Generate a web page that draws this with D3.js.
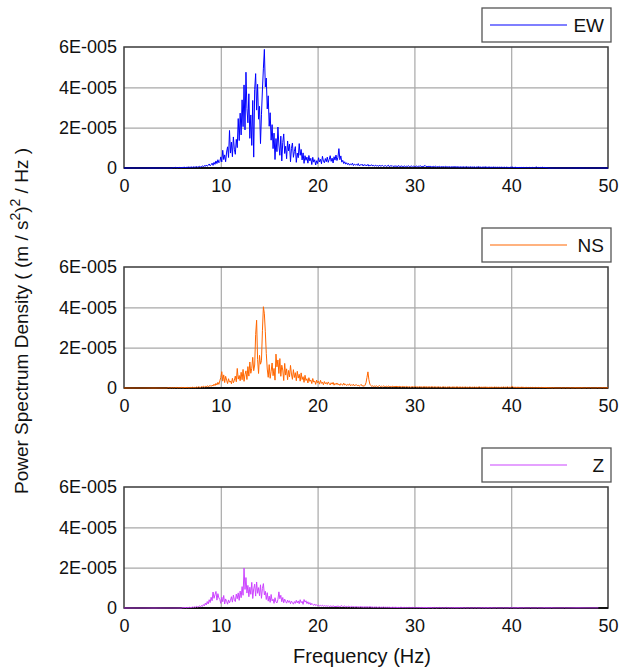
<!DOCTYPE html>
<html>
<head>
<meta charset="utf-8">
<script src="https://cdn.jsdelivr.net/npm/d3@7"></script>
<style>
  html, body { margin: 0; padding: 0; background: #fff; }
  svg { display: block; font-family: "Liberation Sans", Arial, sans-serif; }
</style>
</head>
<body>
<svg id="chart" width="634" height="671"></svg>
<script>
// Frequency grid of the spectra (Hz); sample i sits at i * freqStep
const freqStep = 0.1;
const freqDomain = [0, 50];
const freqTicks = [0, 10, 20, 30, 40, 50];
const psdDomain = [0, 6e-5];
const psdTicks = [0, 2e-5, 4e-5, 6e-5];
const psdTickLabels = ["0", "2E-005", "4E-005", "6E-005"];
// spectra below are listed in units of 1E-006 (m/s^2)^2/Hz
const psdUnit = 1e-6;

const components = ["EW", "NS", "Z"];
const componentColors = ["#0000ff", "#ff6600", "#cc44ff"];

const ewPsd = [
  0,0,0,0,0,0,0,0,0,0,
  0,0,0,0,0,0,0,0,0,0,
  0,0,0,0,0,0,0,0,0,0,
  0,0,0,0,0,0,0,0,0,0,
  0,0,0,0,0,0,0,0,0,0,
  0.1,0.2,0.1,0.3,0.2,0.1,0.2,0.3,0.2,0.1,
  0.3,0.2,0.4,0.3,0.2,0.4,0.3,0.5,0.3,0.4,
  0.5,0.3,0.6,0.4,0.5,0.7,0.4,0.6,0.8,0.5,
  0.7,1.0,0.6,1.2,0.8,1.5,0.9,1.3,2.0,1.1,
  1.6,2.4,1.3,2.8,1.8,3.5,2.2,4.1,2.6,3.2,
  5.5,3.0,8.8,4.2,6.5,3.1,7.9,10.5,5.2,18.6,
  7.4,12.8,5.6,15.4,9.3,6.8,14.2,10.1,24.5,13.6,
  27.2,16.4,33.8,20.5,41.2,18.9,47.5,29.6,22.4,36.8,
  14.7,26.3,11.2,33.5,5.4,38.9,46.8,28.7,41.5,24.2,
  30.6,12.1,26.4,38.7,49.5,58.8,40.2,44.6,29.3,35.8,
  20.7,27.4,13.8,21.5,9.6,17.3,4.2,14.6,8.1,20.3,
  11.4,6.3,15.8,3.5,12.7,16.9,7.2,10.8,4.6,13.4,
  8.5,11.9,3.1,9.7,12.4,5.3,8.2,10.6,2.8,7.4,
  5.1,12.1,6.3,9.2,4.0,7.5,2.3,6.1,3.8,5.4,
  2.4,6.2,3.5,4.8,1.7,5.3,2.9,4.1,1.5,3.6,
  2.2,5.1,3.0,4.3,2.1,5.8,3.4,2.6,4.7,3.1,
  5.4,2.8,4.2,6.1,3.3,4.9,2.5,5.6,3.9,6.4,
  3.7,5.2,9.6,4.1,6.0,2.9,3.8,2.2,3.1,1.9,
  2.6,1.7,2.3,1.4,2.0,1.6,2.4,1.2,1.9,1.5,
  1.8,1.3,2.2,1.1,1.6,1.4,1.9,1.0,1.7,1.3,
  1.5,1.1,1.8,0.9,1.4,1.2,1.6,1.0,1.3,0.9,
  1.4,1.0,1.2,0.8,1.5,0.9,1.1,1.3,0.8,1.0,
  1.2,0.8,1.0,1.4,0.7,1.1,0.9,1.2,0.7,1.0,
  0.8,1.1,0.7,0.9,1.2,0.6,0.9,1.0,0.7,0.8,
  1.0,0.6,0.9,0.8,1.1,0.7,0.8,1.0,0.6,0.9,
  0.8,0.7,1.0,0.6,0.9,0.7,1.2,0.6,0.8,0.7,
  0.9,1.3,0.7,0.8,0.6,0.9,0.7,0.8,0.5,0.7,
  0.8,0.6,0.9,0.5,0.7,0.6,0.8,0.5,0.7,0.6,
  0.7,0.5,0.8,0.6,0.6,0.5,0.7,0.4,0.6,0.5,
  0.6,0.5,0.7,0.4,0.6,0.5,0.5,0.4,0.6,0.4,
  0.5,0.6,0.4,0.5,0.7,0.4,0.5,0.4,0.6,0.4,
  0.5,0.4,0.6,0.3,0.5,0.4,0.7,0.4,0.5,0.3,
  0.4,0.5,0.3,0.6,0.4,0.4,0.3,0.5,0.4,0.3,
  0.4,0.3,0.5,0.3,0.4,0.3,0.4,0.3,0.4,0.3,
  0.4,0.3,0.3,0.4,0.2,0.4,0.3,0.3,0.2,0.4,
  0.3,0.5,0.3,0.2,0.4,0.3,0.2,0.3,0.2,0.3,
  0.2,0.3,0.2,0.3,0.2,0.2,0.3,0.2,0.2,0.3,
  0.2,0.2,0.3,0.2,0.2,0.3,0.5,0.2,0.3,0.2,
  0.3,0.2,0.4,0.2,0.3,0.2,0.2,0.1,0.1,0,
  0,0,0,0,0,0,0,0,0,0,
  0,0,0,0,0,0,0,0,0,0,
  0,0,0,0,0,0,0,0,0,0,
  0,0,0,0,0,0,0,0,0,0,
  0,0,0,0,0,0,0,0,0,0,
  0,0,0,0,0,0,0,0,0,0,
  0
];

const nsPsd = [
  0,0,0,0,0,0,0,0,0,0,
  0,0,0,0,0,0,0,0,0,0,
  0,0,0,0,0,0,0,0,0,0,
  0,0,0,0,0,0,0,0,0,0,
  0,0,0,0,0,0.1,0.2,0.1,0.1,0.2,
  0.1,0.2,0.1,0.2,0.3,0.1,0.2,0.2,0.1,0.3,
  0.2,0.1,0.2,0.3,0.2,0.2,0.3,0.1,0.2,0.3,
  0.2,0.4,0.2,0.3,0.2,0.5,0.3,0.6,0.4,0.3,
  0.7,0.5,0.9,0.4,0.8,0.6,1.1,0.7,0.9,1.3,
  0.8,1.4,1.0,1.9,1.2,2.3,1.5,2.8,1.8,3.6,
  5.2,8.1,3.4,6.5,2.7,5.8,3.9,2.2,4.6,2.9,
  3.5,2.1,4.8,2.6,3.8,5.9,3.1,9.7,4.4,6.2,
  3.6,7.8,4.1,9.2,3.3,6.7,8.5,4.2,10.6,5.9,
  12.9,7.3,9.8,15.2,8.6,11.4,26.5,33.6,14.1,7.2,
  16.2,11.8,13.5,28.4,40.3,36.8,27.9,17.1,9.4,5.3,
  11.6,4.8,8.3,12.4,6.1,9.7,3.9,16.8,10.5,13.9,
  7.2,14.6,5.8,11.3,8.9,3.7,12.2,6.4,9.5,4.1,
  8.7,5.5,11.2,6.9,4.3,9.1,5.2,7.6,3.6,8.3,
  4.9,6.8,3.4,7.5,4.2,5.6,2.8,6.3,3.7,4.6,
  2.5,5.1,3.3,4.0,2.2,4.7,2.9,3.5,1.8,3.9,
  2.6,3.4,1.9,3.8,2.3,2.9,1.6,3.2,2.1,2.7,
  1.8,3.0,2.2,1.5,2.6,1.9,2.8,1.4,2.3,1.7,
  2.5,1.6,2.0,1.3,2.2,1.7,1.4,2.4,1.5,1.9,
  1.2,1.8,1.4,2.1,1.1,1.6,1.3,1.9,1.0,1.5,
  1.7,1.1,1.4,0.9,1.3,1.8,1.0,1.2,0.8,1.4,
  2.6,5.2,8.0,4.1,1.9,1.2,0.8,1.1,0.7,1.0,
  0.8,1.1,0.6,0.9,1.2,0.7,0.9,0.6,1.0,0.8,
  0.7,0.9,0.6,1.0,0.7,0.8,0.5,0.9,0.7,0.6,
  0.8,0.6,0.9,0.5,0.7,0.8,0.6,0.5,0.8,0.6,
  0.7,0.5,0.8,0.6,0.5,0.7,0.4,0.6,0.7,0.5,
  0.6,0.8,0.5,0.6,0.4,0.7,0.5,0.6,0.4,0.5,
  0.7,0.4,0.6,0.5,0.4,0.6,0.5,0.4,0.7,0.5,
  0.4,0.6,0.5,0.4,0.5,0.6,0.4,0.5,0.3,0.5,
  0.6,0.4,0.5,0.3,0.5,0.4,0.6,0.4,0.3,0.5,
  0.4,0.5,0.3,0.4,0.6,0.4,0.3,0.5,0.4,0.3,
  0.5,0.3,0.4,0.5,0.3,0.4,0.3,0.5,0.4,0.3,
  0.4,0.3,0.5,0.3,0.4,0.3,0.4,0.6,0.3,0.4,
  0.3,0.4,0.3,0.5,0.3,0.4,0.3,0.3,0.4,0.3,
  0.4,0.3,0.3,0.5,0.3,0.4,0.3,0.4,0.3,0.3,
  0.4,0.3,0.5,0.3,0.4,0.3,0.6,0.3,0.4,0.3,
  0.5,0.8,0.4,0.3,0.4,0.3,0.3,0.4,0.3,0.3,
  0.3,0.4,0.3,0.3,0.2,0.3,0.3,0.2,0.3,0.2,
  0.3,0.2,0.3,0.2,0.2,0.3,0.2,0.2,0.3,0.2,
  0.2,0.3,0.2,0.2,0.2,0.3,0.2,0.2,0.1,0.2,
  0.1,0.2,0.1,0.1,0.2,0.1,0.1,0.1,0.1,0.1,
  0.1,0.1,0.2,0.1,0.1,0.1,0.2,0.1,0.1,0.1,
  0.1,0.2,0.1,0.1,0.1,0.1,0.2,0.1,0.1,0.1,
  0.1,0.1,0.1,0.2,0.1,0.1,0.1,0.1,0.2,0.1,
  0.1,0.1,0.2,0.1,0.1,0.1,0.1,0.1,0.1,0.2,
  0.1,0.1,0.1,0.1,0.2,0.1,0.1,0.1,0.1,0.1,
  0.1
];

const zPsd = [
  0,0,0,0,0,0,0,0,0,0,
  0,0,0,0,0,0,0,0,0,0,
  0,0,0,0,0,0,0,0,0,0,
  0,0,0,0,0,0,0,0,0,0,
  0,0,0,0,0,0,0,0,0,0,
  0,0,0,0,0,0,0,0,0,0,
  0.1,0.2,0.1,0.3,0.2,0.1,0.3,0.2,0.4,0.2,
  0.3,0.5,0.3,0.6,0.4,0.8,0.5,0.7,1.0,0.6,
  1.2,0.8,1.7,1.1,2.4,1.5,3.2,2.0,4.1,2.7,
  5.3,3.6,7.9,4.8,6.6,8.2,3.9,7.1,5.0,4.2,
  2.3,5.4,3.1,6.2,2.0,4.5,3.3,1.9,4.0,2.6,
  3.8,5.6,2.9,6.4,4.1,3.2,6.9,4.6,7.5,3.8,
  8.4,5.1,10.6,6.3,19.8,9.2,15.1,7.4,11.2,5.6,
  10.3,6.8,12.7,4.7,9.5,11.8,5.9,12.9,7.3,10.1,
  6.1,11.5,4.8,9.7,12.1,6.5,8.3,4.2,7.6,3.4,
  5.9,2.8,6.7,3.5,4.4,2.3,5.1,3.0,2.5,4.2,
  8.0,4.6,6.3,3.1,5.2,2.6,4.4,3.3,2.4,3.9,
  2.8,3.6,2.1,3.4,2.7,1.9,3.2,2.3,3.8,2.5,
  3.5,2.1,4.1,2.6,3.3,1.8,4.2,2.9,3.6,2.2,
  3.1,1.9,2.7,1.5,2.3,1.7,1.3,2.0,1.2,1.6,
  1.1,1.5,0.9,1.3,1.0,1.4,0.8,1.2,0.9,1.1,
  0.8,1.2,0.7,1.0,0.9,0.7,1.1,0.8,0.6,0.9,
  0.7,1.0,0.8,0.6,0.9,1.2,0.7,0.8,1.0,0.6,
  0.8,0.6,0.9,0.7,0.5,0.8,0.6,0.7,0.5,0.6,
  0.7,0.5,0.6,0.4,0.7,0.5,0.6,0.4,0.5,0.6,
  0.4,0.6,0.5,0.4,0.7,0.5,0.4,0.5,0.3,0.5,
  0.4,0.5,0.3,0.4,0.5,0.3,0.4,0.3,0.5,0.3,
  0.4,0.3,0.4,0.3,0.4,0.3,0.2,0.4,0.3,0.3,
  0.3,0.4,0.2,0.3,0.3,0.2,0.4,0.3,0.2,0.3,
  0.3,0.2,0.3,0.2,0.3,0.3,0.2,0.2,0.3,0.2,
  0.2,0.3,0.2,0.2,0.3,0.2,0.2,0.3,0.2,0.2,
  0.3,0.2,0.2,0.3,0.1,0.2,0.2,0.3,0.2,0.1,
  0.2,0.3,0.2,0.1,0.2,0.2,0.3,0.2,0.2,0.1,
  0.2,0.2,0.1,0.3,0.2,0.1,0.2,0.2,0.1,0.2,
  0.1,0.2,0.2,0.1,0.2,0.1,0.2,0.2,0.1,0.2,
  0.2,0.1,0.1,0.2,0.1,0.1,0.1,0.2,0.1,0.1,
  0.1,0.2,0.1,0.1,0.2,0.1,0.1,0.1,0.1,0.2,
  0.1,0.1,0.2,0.1,0.1,0.1,0.2,0.1,0.1,0.1,
  0.2,0.1,0.1,0.1,0.1,0.2,0.1,0.1,0.1,0.1,
  0.1,0.1,0.2,0.1,0.1,0.1,0.1,0.1,0.2,0.1,
  0.1,0.2,0.1,0.1,0.1,0.1,0.1,0.2,0.1,0.1,
  0.1,0.1,0.1,0.2,0.1,0.1,0.1,0.1,0.1,0.1,
  0.2,0.1,0.1,0.1,0.1,0.1,0.1,0.2,0.1,0.1,
  0.1,0.1,0.1,0.1,0.2,0.1,0.1,0.1,0.1,0.1,
  0.1,0.1,0.2,0.1,0.1,0.1,0.1,0.1,0.1,0.1,
  0.1,0.1,0.1,0.1,0.1,0.2,0.1,0.1,0.1,0.1,
  0.1,0.1,0.1,0.1,0.1,0.1,0.1,0.1,0.1,0.1,
  0.1,0.1,0.1,0.1,0.1,0.1,0.1,0.1,0.1,0.1,
  0.1,0.1,0.1,0.1,0.1,0.1,0.1,0.1,0.1,0.1,
  0.1
];

const series = [ewPsd, nsPsd, zPsd];

// ---- layout ----
const svg = d3.select("#chart");
const plotLeft = 124, plotRight = 608;
const panelTops = [47, 267, 487];
const panelHeight = 121;
const fontStack = '"Liberation Sans", Arial, sans-serif';

const x = d3.scaleLinear().domain(freqDomain).range([plotLeft, plotRight]);

components.forEach((name, k) => {
  const top = panelTops[k];
  const bottom = top + panelHeight;
  const y = d3.scaleLinear().domain(psdDomain).range([bottom, top]);
  const g = svg.append("g").attr("class", "panel-" + name);

  // vertical grid
  g.append("g")
    .attr("transform", `translate(0,${bottom})`)
    .call(d3.axisBottom(x).tickValues(freqTicks.slice(1, -1)).tickSize(-panelHeight).tickFormat(""))
    .call(a => a.select(".domain").remove())
    .call(a => a.selectAll("line").attr("stroke", "#a8a8a8").attr("stroke-width", 1.2));

  // horizontal grid
  g.append("g")
    .attr("transform", `translate(${plotLeft},0)`)
    .call(d3.axisLeft(y).tickValues(psdTicks.slice(1, -1)).tickSize(-(plotRight - plotLeft)).tickFormat(""))
    .call(a => a.select(".domain").remove())
    .call(a => a.selectAll("line").attr("stroke", "#a8a8a8").attr("stroke-width", 1.2));

  // plot frame
  g.append("rect")
    .attr("x", plotLeft).attr("y", top)
    .attr("width", plotRight - plotLeft).attr("height", panelHeight)
    .attr("fill", "none").attr("stroke", "#3a3a3a").attr("stroke-width", 1.5);
  g.append("line")
    .attr("x1", plotLeft).attr("x2", plotRight).attr("y1", bottom).attr("y2", bottom)
    .attr("stroke", "#111").attr("stroke-width", 1.8);

  // y tick labels
  g.append("g")
    .attr("transform", `translate(${plotLeft},0)`)
    .call(d3.axisLeft(y).tickValues(psdTicks).tickSize(0).tickPadding(7)
      .tickFormat((d, i) => psdTickLabels[i]))
    .call(a => a.select(".domain").remove())
    .call(a => a.selectAll("text").attr("font-size", 18).attr("font-family", fontStack).attr("fill", "#111"));

  // x tick labels
  g.append("g")
    .attr("transform", `translate(0,${bottom})`)
    .call(d3.axisBottom(x).tickValues(freqTicks).tickSize(0).tickPadding(11).tickFormat(d3.format("d")))
    .call(a => a.select(".domain").remove())
    .call(a => a.selectAll("text").attr("font-size", 18).attr("font-family", fontStack).attr("fill", "#111"));

  // spectrum
  const values = series[k];
  const line = d3.line()
    .x((d, i) => x(i * freqStep))
    .y(d => y(d * psdUnit));
  g.append("path")
    .datum(values)
    .attr("d", line)
    .attr("fill", "none")
    .attr("stroke", componentColors[k])
    .attr("stroke-width", 1)
    .attr("stroke-linejoin", "round");

  // legend
  const lx = 482, lw = 129, ly = top - 39, lh = 34;
  const lg = g.append("g").attr("class", "legend");
  lg.append("rect")
    .attr("x", lx).attr("y", ly).attr("width", lw).attr("height", lh)
    .attr("fill", "#fff").attr("stroke", "#555").attr("stroke-width", 1.3);
  lg.append("line")
    .attr("x1", lx + 8).attr("x2", lx + 85)
    .attr("y1", ly + lh / 2).attr("y2", ly + lh / 2)
    .attr("stroke", componentColors[k]).attr("stroke-width", 1.2);
  lg.append("text")
    .attr("x", lx + lw - 7).attr("y", ly + lh / 2)
    .attr("dy", "0.36em")
    .attr("text-anchor", "end")
    .attr("font-size", 19).attr("font-family", fontStack).attr("fill", "#111")
    .text(name);
});

// axis titles
svg.append("text")
  .attr("x", 362).attr("y", 663)
  .attr("text-anchor", "middle")
  .attr("font-size", 20).attr("fill", "#111")
  .text("Frequency (Hz)");

const yTitle = svg.append("text")
  .attr("transform", "translate(28,321) rotate(-90)")
  .attr("text-anchor", "middle")
  .attr("font-size", 19).attr("fill", "#111");
yTitle.append("tspan").text("Power Spectrum Density ( (m / s");
yTitle.append("tspan").attr("baseline-shift", "super").attr("font-size", 14).text("2");
yTitle.append("tspan").text(")");
yTitle.append("tspan").attr("baseline-shift", "super").attr("font-size", 14).text("2");
yTitle.append("tspan").text(" / Hz )");
</script>
</body>
</html>
